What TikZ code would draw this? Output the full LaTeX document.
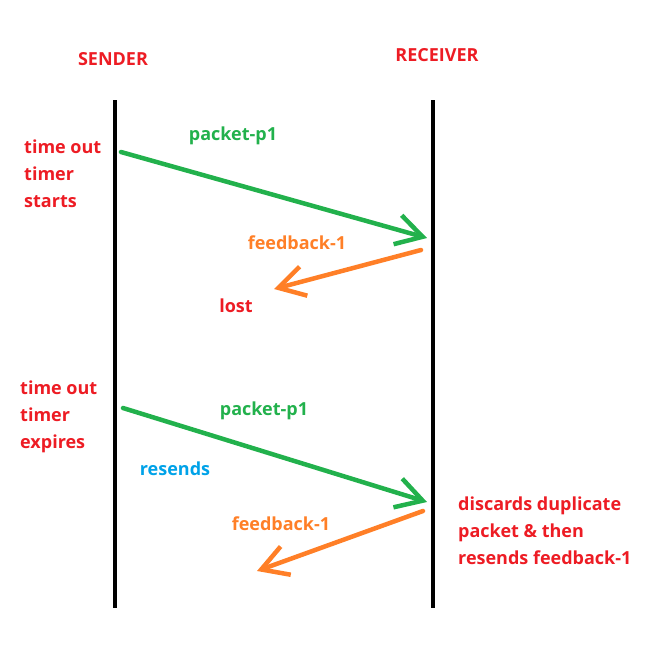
\documentclass[tikz,border=0pt]{standalone}
\usepackage{fontspec}
\setmainfont{Open Sans}
\usetikzlibrary{arrows.meta}
\definecolor{pRed}{RGB}{237,28,36}
\definecolor{pGreen}{RGB}{34,177,76}
\definecolor{pOrange}{RGB}{255,127,39}
\definecolor{pBlue}{RGB}{0,162,232}
\begin{document}
\begin{tikzpicture}[
			x=1pt, y=-1pt,
			txt/.style={inner sep=0pt, font=\fontsize{18}{27}\selectfont\bfseries, align=left},
			life/.style={line width=4.5pt, black},
			msg/.style={line width=4.5pt, line cap=round, -{Straight Barb[length=26pt,width=30pt,line width=4.5pt]}}
		]
		\useasboundingbox (0,0) rectangle (652,657);
		% lifelines
		\coordinate (sTop) at (115,100);
		\coordinate (sBot) at (115,608);
		\coordinate (rTop) at (433,100);
		\coordinate (rBot) at (433,608);
		\draw[life] (sTop) -- (sBot);
		\draw[life] (rTop) -- (rBot);
		\node[txt, text=pRed] (sender) at (113,59) {SENDER};
		\node[txt, text=pRed] (receiver) at (437,55) {RECEIVER};
		% first packet
		\coordinate (p1a) at (121,152);
		\coordinate (p1b) at (427,238);
		\coordinate (f1a) at (421,250);
		\coordinate (f1b) at (274,289);
		\draw[msg, pGreen] (p1a) -- (p1b);
		\draw[msg, pOrange] (f1a) -- (f1b);
		\node[txt, text=pRed, anchor=west] (start) at (24,174) {time out\\timer\\starts};
		\node[txt, text=pGreen] (pkt1) at (233,136) {packet-p1};
		\node[txt, text=pOrange] (fb1) at (297,243) {feedback-1};
		\node[txt, text=pRed] (lost) at (236,306) {lost};
		% resend
		\coordinate (p2a) at (123,408);
		\coordinate (p2b) at (427,502);
		\coordinate (f2a) at (423,511);
		\coordinate (f2b) at (257,571);
		\draw[msg, pGreen] (p2a) -- (p2b);
		\draw[msg, pOrange] (f2a) -- (f2b);
		\node[txt, text=pRed, anchor=west] (expire) at (20,417) {time out\\timer\\expires};
		\node[txt, text=pGreen] (pkt2) at (264,411) {packet-p1};
		\node[txt, text=pBlue] (resend) at (175,469) {resends};
		\node[txt, text=pOrange] (fb2) at (281,524) {feedback-1};
		\node[txt, text=pRed, anchor=west] (discard) at (458,531) {discards duplicate\\packet \& then\\resends feedback-1};
	\end{tikzpicture}
\end{document}
